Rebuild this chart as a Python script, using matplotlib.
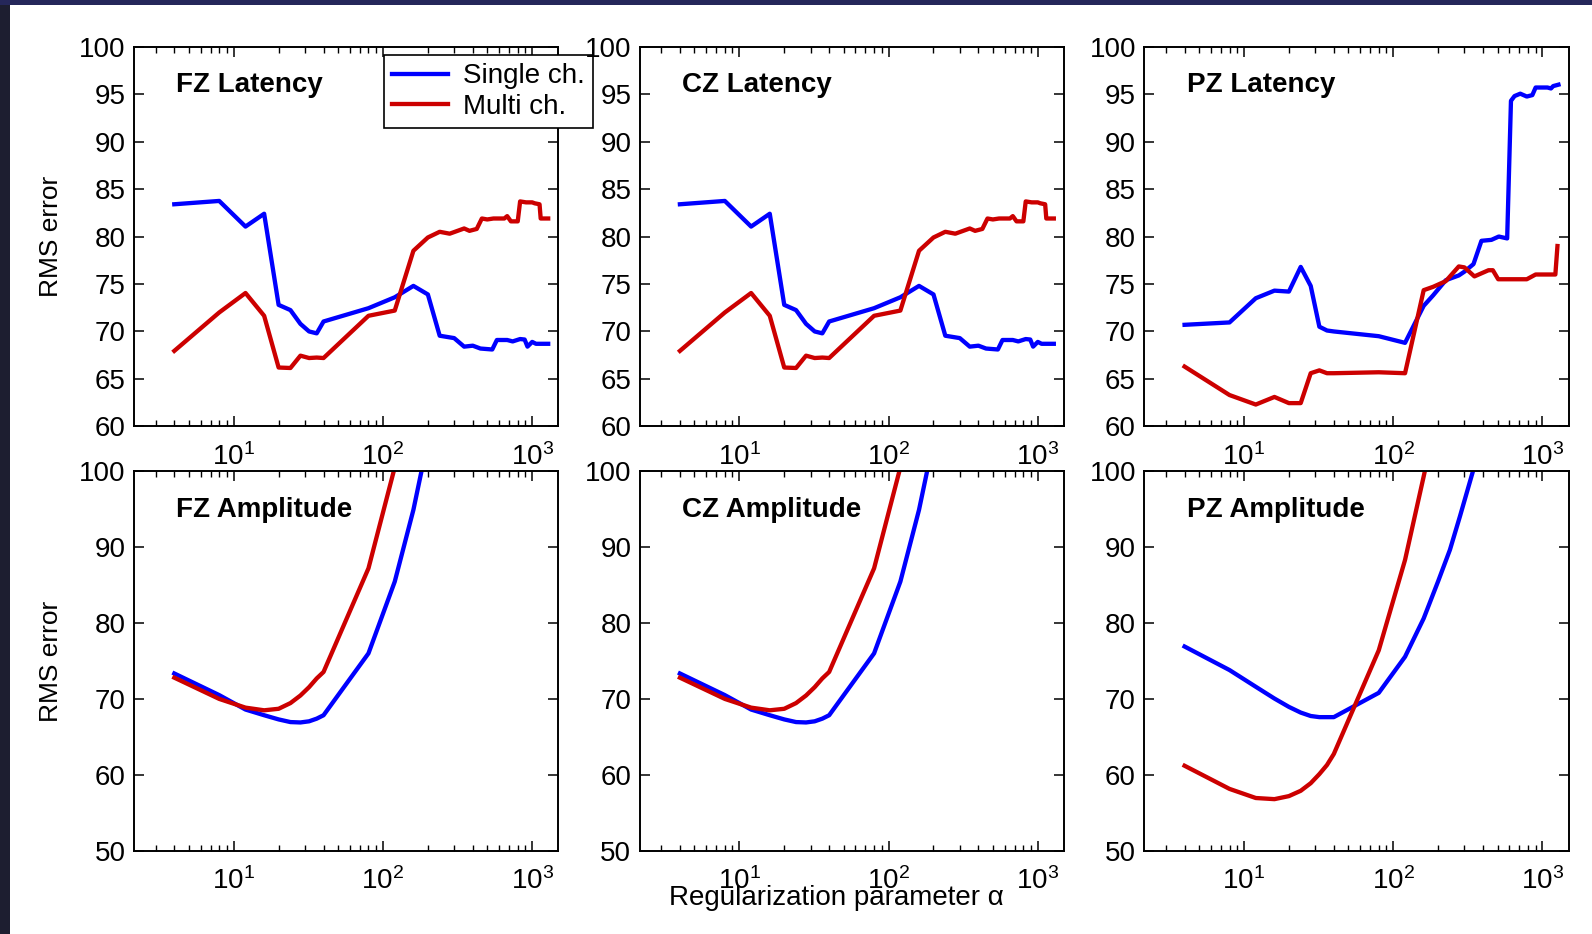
import matplotlib
matplotlib.use('Agg')
import matplotlib.pyplot as plt
from matplotlib.patches import Rectangle

plt.rcParams['font.family'] = ['Liberation Sans', 'DejaVu Sans']
plt.rcParams['mathtext.fontset'] = 'custom'
plt.rcParams['mathtext.rm'] = 'Liberation Sans'
plt.rcParams['mathtext.it'] = 'Liberation Sans:italic'

BLUE = '#0000ff'
RED = '#cc0000'

# latency curves (FZ and CZ look identical in the figure)
fz_lat_single_x = [4, 8, 12, 16, 20, 24, 28, 32, 36, 40, 80, 120, 160, 200, 240, 300, 350, 400,
                   450, 540, 580, 680, 740, 830, 890, 930, 1000, 1060, 1280]
fz_lat_single_y = [83.4, 83.75, 81.05, 82.4, 72.8, 72.25, 70.8, 70.0, 69.8, 71.05, 72.45, 73.6, 74.8,
                   73.9, 69.55, 69.3, 68.4, 68.5, 68.2, 68.1, 69.1, 69.1, 68.95, 69.2, 69.15, 68.4,
                   68.9, 68.7, 68.7]
fz_lat_multi_x = [4, 8, 12, 16, 20, 24, 28, 32, 36, 40, 80, 120, 160, 200, 240, 280, 350, 380, 425,
                  460, 500, 550, 650, 680, 720, 800, 830, 910, 1000, 1040, 1120, 1140, 1280]
fz_lat_multi_y = [67.95, 72.0, 74.05, 71.65, 66.2, 66.15, 67.45, 67.2, 67.25, 67.2, 71.65, 72.2, 78.5,
                  79.9, 80.5, 80.3, 80.85, 80.6, 80.8, 81.9, 81.8, 81.9, 81.9, 82.15, 81.6, 81.6, 83.7,
                  83.6, 83.6, 83.5, 83.4, 81.9, 81.9]

pz_lat_single_x = [4, 8, 12, 16, 20, 24, 28, 32, 36, 40, 80, 120, 160, 185, 225, 275, 300, 345, 390,
                   455, 510, 580, 615, 650, 710, 785, 855, 900, 1080, 1140, 1180, 1280]
pz_lat_single_y = [70.7, 70.95, 73.5, 74.3, 74.2, 76.8, 74.8, 70.5, 70.1, 70.0, 69.5, 68.8, 72.7, 73.8,
                   75.4, 75.9, 76.3, 77.1, 79.55, 79.65, 80.0, 79.8, 94.3, 94.8, 95.05, 94.75, 94.9,
                   95.7, 95.7, 95.6, 95.85, 96.0]
pz_lat_multi_x = [4, 8, 12, 16, 20, 24, 28, 32, 36, 40, 80, 120, 160, 185, 225, 275, 300, 350, 435,
                  465, 505, 785, 900, 1220, 1260]
pz_lat_multi_y = [66.3, 63.3, 62.3, 63.1, 62.45, 62.45, 65.6, 65.9, 65.6, 65.6, 65.7, 65.6, 74.35, 74.7,
                  75.3, 76.85, 76.75, 75.8, 76.45, 76.45, 75.5, 75.5, 76.0, 76.0, 79.0]

# amplitude curves
amp_x = [4, 8, 12, 16, 20, 24, 28, 32, 36, 40, 80, 120, 160, 200, 240, 280, 320, 360]
fz_amp_single = [73.35, 70.5, 68.6, 67.85, 67.3, 66.95, 66.9, 67.05, 67.4, 67.85, 76.0, 85.45, 94.9, 104.0]
fz_amp_multi = [72.8, 70.0, 68.85, 68.5, 68.7, 69.45, 70.45, 71.55, 72.7, 73.55, 87.2, 100.5, 109.0]
pz_amp_single = [76.9, 73.8, 71.6, 70.05, 68.95, 68.2, 67.75, 67.6, 67.6, 67.6, 70.8, 75.55, 80.6, 85.5,
                 89.65, 94.05, 98.0, 101.5]
pz_amp_multi = [61.2, 58.15, 56.95, 56.8, 57.2, 57.9, 58.9, 60.1, 61.3, 62.75, 76.4, 88.3, 99.3, 108.0]

panels = [
    ('FZ Latency', fz_lat_single_x, fz_lat_single_y, fz_lat_multi_x, fz_lat_multi_y),
    ('CZ Latency', fz_lat_single_x, fz_lat_single_y, fz_lat_multi_x, fz_lat_multi_y),
    ('PZ Latency', pz_lat_single_x, pz_lat_single_y, pz_lat_multi_x, pz_lat_multi_y),
    ('FZ Amplitude', amp_x[:len(fz_amp_single)], fz_amp_single, amp_x[:len(fz_amp_multi)], fz_amp_multi),
    ('CZ Amplitude', amp_x[:len(fz_amp_single)], fz_amp_single, amp_x[:len(fz_amp_multi)], fz_amp_multi),
    ('PZ Amplitude', amp_x[:len(pz_amp_single)], pz_amp_single, amp_x[:len(pz_amp_multi)], pz_amp_multi),
]

fig = plt.figure(figsize=(15.92, 9.34), dpi=100)
fig.patch.set_facecolor('white')

lefts = [0.0842, 0.4018, 0.7188]
bottoms = [0.5435, 0.0891]
w, h = 0.2666, 0.4065

axes = []
for i, (title, sx, sy, mx, my) in enumerate(panels):
    r, c = divmod(i, 3)
    ax = fig.add_axes([lefts[c], bottoms[r], w, h])
    ax.plot(sx, sy, color=BLUE, lw=3.1, label='Single ch.')
    ax.plot(mx, my, color=RED, lw=3.1, label='Multi ch.')
    ax.set_xscale('log')
    ax.set_xlim(2.15, 1500)
    if r == 0:
        ax.set_ylim(60, 100)
        ax.set_yticks(range(60, 101, 5))
    else:
        ax.set_ylim(50, 100)
        ax.set_yticks(range(50, 101, 10))
    ax.set_xticks([10, 100, 1000])
    ax.tick_params(which='both', direction='in', top=True, right=True, labelsize=20)
    ax.tick_params(which='major', length=7, width=1.1)
    ax.tick_params(which='minor', length=4, width=1.0)
    ax.tick_params(axis='x', pad=12)
    ax.tick_params(axis='y', pad=6)
    for s in ax.spines.values():
        s.set_linewidth(1.4)
    ax.text(0.1, 0.898, title, transform=ax.transAxes, fontsize=20, fontweight='bold',
            va='center', ha='left')
    axes.append(ax)

leg = axes[0].legend(loc='upper left', bbox_to_anchor=(0.241, 0.941), bbox_transform=fig.transFigure,
                     borderaxespad=0, fontsize=20, fancybox=False, edgecolor='black', framealpha=1,
                     handlelength=2.0, handletextpad=0.55, borderpad=0.3, labelspacing=0.15)
leg.get_frame().set_linewidth(1.2)
leg.set_zorder(10)

fig.text(0.032, 0.747, 'RMS error', rotation=90, fontsize=19, ha='center', va='center')
fig.text(0.032, 0.292, 'RMS error', rotation=90, fontsize=19, ha='center', va='center')
fig.text(0.5255, 0.039, 'Regularization parameter α', fontsize=20, ha='center', va='center')

# dark frame strips from the screenshot
fig.patches.append(Rectangle((0, 0), 10 / 1592, 1, transform=fig.transFigure,
                             facecolor='#1d1e30', edgecolor='none', zorder=-1))
fig.patches.append(Rectangle((0, 1 - 5 / 934), 1, 5 / 934, transform=fig.transFigure,
                             facecolor='#25275a', edgecolor='none', zorder=-1))

fig.savefig('out.png', dpi=100)
